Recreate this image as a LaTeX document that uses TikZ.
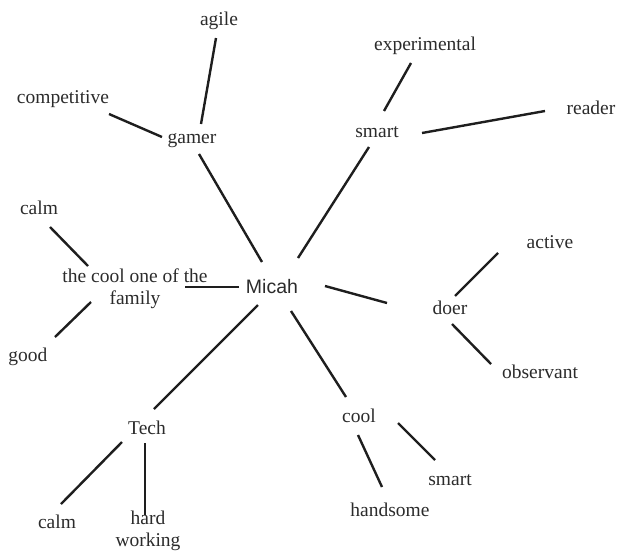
\documentclass[tikz,border=0pt]{standalone}
\usepackage{fontspec}
\setmainfont{Liberation Serif}
\newfontfamily\micahfont{Liberation Sans}
\definecolor{inkgray}{HTML}{2B2B2B}
\definecolor{linegray}{HTML}{1E1E1E}
\tikzset{
  word/.style={inner sep=0pt, text=inkgray, font=\fontsize{19.5}{22}\selectfont, text height=2.9ex, text depth=0.25ex},
  twoline/.style={inner sep=0pt, text=inkgray, font=\fontsize{19.5}{22}\selectfont, align=center},
  link/.style={line width=2.4pt, draw=linegray}
}

\begin{document}
\begin{tikzpicture}[x=1pt, y=-1pt]
    \useasboundingbox (0,0) rectangle (617,552);

    % centre
    \node[word, font=\micahfont\fontsize{19.5}{22}\selectfont] (micah) at (272,287) {Micah};

    % first ring
    \node[word] (gamer) at (192,137) {gamer};
    \node[word] (smart) at (377,131) {smart};
    \node[twoline] (coolone) at (135,289) {the cool one of the\\family};
    \node[word] (doer) at (450,308) {doer};
    \node[word] (tech) at (147,428) {Tech};
    \node[word] (cool) at (359,416) {cool};

    % outer words
    \node[word] (agile) at (219,19) {agile};
    \node[word] (competitive) at (63,97) {competitive};
    \node[word] (experimental) at (425,44) {experimental};
    \node[word] (reader) at (591,108) {reader};
    \node[word] (calmtop) at (39,208) {calm};
    \node[word] (good) at (28,355) {good};
    \node[word] (active) at (550,242) {active};
    \node[word] (observant) at (540,372) {observant};
    \node[word] (smartlow) at (450,479) {smart};
    \node[word] (handsome) at (390,510) {handsome};
    \node[word] (calmlow) at (57,522) {calm};
    \node[twoline] (hardwork) at (148,531) {hard\\working};

    % spokes from Micah
    \draw[link] ([shift={(-10,-25)}]micah.center) -- ([shift={(7,17)}]gamer.center);
    \draw[link] ([shift={(26,-29)}]micah.center) -- ([shift={(-8,16)}]smart.center);
    \draw[link] ([shift={(-33,0)}]micah.center) -- ([shift={(50,-2)}]coolone.center);
    \draw[link] ([shift={(53,-1)}]micah.center) -- ([shift={(-63,-5)}]doer.center);
    \draw[link] ([shift={(-14,18)}]micah.center) -- ([shift={(7,-19)}]tech.center);
    \draw[link] ([shift={(19,24)}]micah.center) -- ([shift={(-13,-19)}]cool.center);

    % gamer
    \draw[link] ([shift={(9,-13)}]gamer.center) -- ([shift={(-3,19)}]agile.center);
    \draw[link] ([shift={(-30,0)}]gamer.center) -- ([shift={(46,17)}]competitive.center);

    % smart
    \draw[link] ([shift={(7,-20)}]smart.center) -- ([shift={(-14,19)}]experimental.center);
    \draw[link] ([shift={(45,2)}]smart.center) -- ([shift={(-46,3)}]reader.center);

    % the cool one
    \draw[link] ([shift={(-47,-23)}]coolone.center) -- ([shift={(11,19)}]calmtop.center);
    \draw[link] ([shift={(-44,13)}]coolone.center) -- ([shift={(27,-18)}]good.center);

    % doer
    \draw[link] ([shift={(5,-12)}]doer.center) -- ([shift={(-52,11)}]active.center);
    \draw[link] ([shift={(2,16)}]doer.center) -- ([shift={(-49,-8)}]observant.center);

    % Tech
    \draw[link] ([shift={(-25,14)}]tech.center) -- ([shift={(4,-18)}]calmlow.center);
    \draw[link] ([shift={(-2,15)}]tech.center) -- ([shift={(-3,-16)}]hardwork.center);

    % cool
    \draw[link] ([shift={(39,7)}]cool.center) -- ([shift={(-15,-19)}]smartlow.center);
    \draw[link] ([shift={(-1,19)}]cool.center) -- ([shift={(-8,-23)}]handsome.center);
\end{tikzpicture}
\end{document}
